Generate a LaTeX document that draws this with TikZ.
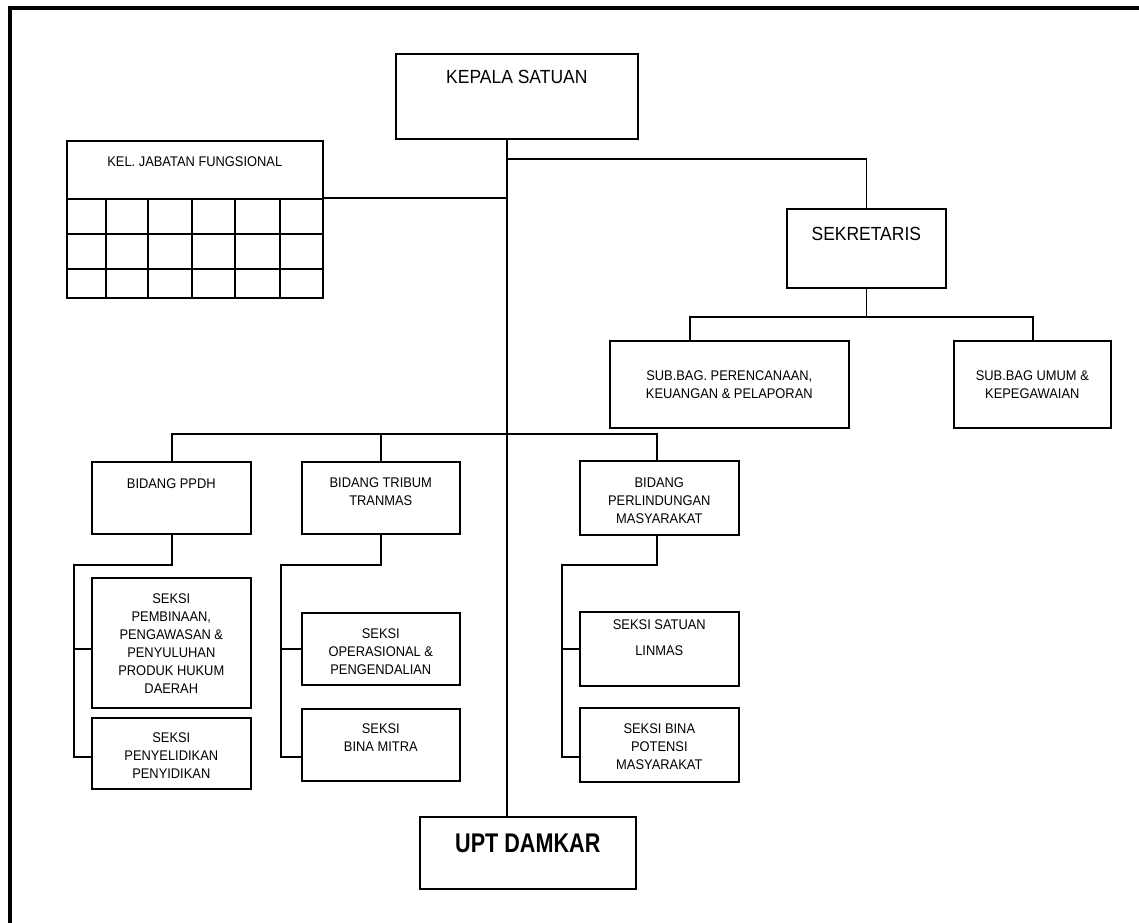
\documentclass[tikz,border=0pt]{standalone}
\usepackage{fontspec}
\setmainfont{Liberation Sans}[FakeStretch=0.92]
\newfontfamily\nbold{Liberation Sans}[FakeStretch=0.8]
\newcommand\bxt[4]{\parbox[c][#1pt][t]{#2pt}{\centering\rule{0pt}{#3pt}#4\par}}
\begin{document}
\begin{tikzpicture}[x=1pt,y=-1pt]
\tikzset{
  box/.style={draw, line width=1.6pt, inner sep=0pt, anchor=north west, font=\fontsize{14}{18}\selectfont},
  ln/.style={line width=1.6pt},
  gl/.style={line width=1.4pt}
}
\useasboundingbox (0,0) rectangle (1139,922);
\clip (0,0) rectangle (1139,922);
% frame
\draw[line width=4pt] (10,940) -- (10,8) -- (1150,8);

% nodes
\node[box, font=\fontsize{19}{23}\selectfont] (kepala) at (395,53) {\bxt{85}{242}{30}{KEPALA SATUAN}};
\node[box, font=\fontsize{14}{17}\selectfont] (kjf) at (66,140) {\bxt{58}{256}{26}{KEL. JABATAN FUNGSIONAL}};
\node[draw, line width=1.6pt, inner sep=0pt, anchor=north west, minimum width=256pt, minimum height=99pt] (grid) at (66,198) {};
\node[box, font=\fontsize{19}{23}\selectfont] (sek) at (786,208) {\bxt{79}{159}{32}{SEKRETARIS}};
\node[box] (sub1) at (609,340) {\bxt{87}{239}{40}{SUB.BAG. PERENCANAAN,\\KEUANGAN \& PELAPORAN}};
\node[box] (sub2) at (953,340) {\bxt{87}{157}{40}{SUB.BAG UMUM \&\\KEPEGAWAIAN}};
\node[box] (b1) at (91,461) {\bxt{72}{159}{27}{BIDANG PPDH}};
\node[box] (b2) at (301,461) {\bxt{72}{158}{26}{BIDANG TRIBUM\\TRANMAS}};
\node[box] (b3) at (579,460) {\bxt{74}{159}{27}{BIDANG\\PERLINDUNGAN\\MASYARAKAT}};
\node[box] (s11) at (91,577) {\bxt{130}{159}{26}{SEKSI\\PEMBINAAN,\\PENGAWASAN \&\\PENYULUHAN\\PRODUK HUKUM\\DAERAH}};
\node[box] (s12) at (91,717) {\bxt{71}{159}{25}{SEKSI\\PENYELIDIKAN\\PENYIDIKAN}};
\node[box] (s21) at (301,612) {\bxt{72}{158}{26}{SEKSI\\OPERASIONAL \&\\PENGENDALIAN}};
\node[box] (s22) at (301,708) {\bxt{72}{158}{25}{SEKSI\\BINA MITRA}};
\node[box] (s31) at (579,611) {\bxt{74}{159}{18}{SEKSI SATUAN\\[8pt]LINMAS}};
\node[box] (s32) at (579,707) {\bxt{74}{159}{26}{SEKSI BINA\\POTENSI\\MASYARAKAT}};
\node[box, font=\fontsize{27}{32}\nbold\bfseries] (upt) at (419,816) {\bxt{72}{216}{36}{UPT DAMKAR}};

% grid lines
\foreach \gx in {106,148,192,235,280} \draw[gl] (\gx,198) -- (\gx,297);
\foreach \gy in {234,269} \draw[gl] (66,\gy) -- (322,\gy);

% junction coordinates
\coordinate (spine) at (507,0);
\coordinate (j1) at (507,159);
\coordinate (j2) at (507,198);
\coordinate (c1) at (690,317);
\coordinate (c2) at (1033,317);
\coordinate (bl) at (172,434);
\coordinate (br) at (657,434);
\coordinate (t1) at (74,565);
\coordinate (a1) at (74,649);
\coordinate (a2) at (74,757);
\coordinate (t2) at (281,565);
\coordinate (d1) at (281,649);
\coordinate (d2) at (281,757);
\coordinate (t3) at (562,565);
\coordinate (e1) at (562,649);
\coordinate (e2) at (562,757);

% connectors
\draw[ln] (kepala.south -| spine) -- (upt.north -| spine);
\draw[ln] (j1) -| (sek.north);
\draw[ln] (grid.north east) -- (j2);
\draw[ln] (sek.south) -- (sek.south |- c1);
\draw[ln] (c1 |- sub1.north) -- (c1) -- (c2) -- (c2 |- sub2.north);
\draw[ln] (b1.north -| bl) -- (bl) -- (br) -- (b3.north -| br);
\draw[ln] (b2.north) -- (b2.north |- bl);

\draw[ln] (b1.south -| bl) |- (t1) -- (a2) -- (a2 -| s12.west);
\draw[ln] (a1) -- (a1 -| s11.west);
\draw[ln] (b2.south) |- (t2) -- (d2) -- (d2 -| s22.west);
\draw[ln] (d1) -- (d1 -| s21.west);
\draw[ln] (b3.south -| br) |- (t3) -- (e2) -- (e2 -| s32.west);
\draw[ln] (e1) -- (e1 -| s31.west);
\end{tikzpicture}
\end{document}
